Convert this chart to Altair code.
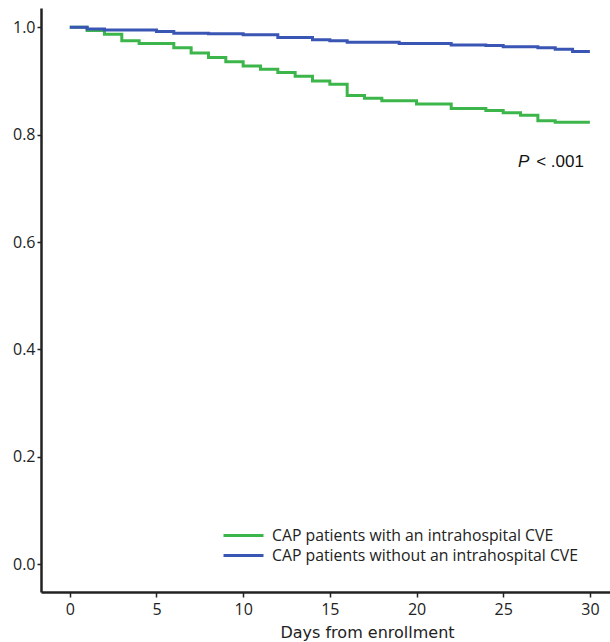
import altair as alt
import pandas as pd

# Kaplan-Meier style step data
green_days = [0, 1, 2, 3, 4, 6, 7, 8, 9, 10, 11, 12, 13, 14, 15, 16, 17, 18, 20, 22, 24, 25, 26, 27, 28, 30]
green_surv = [1.0, 0.994, 0.987, 0.975, 0.970, 0.962, 0.952, 0.944, 0.936, 0.928, 0.922, 0.916, 0.909,
              0.900, 0.894, 0.873, 0.868, 0.863, 0.857, 0.849, 0.845, 0.841, 0.836, 0.826, 0.823, 0.823]
blue_days = [0, 1, 2, 5, 6, 8, 10, 12, 14, 15, 16, 19, 22, 24, 25, 27, 28, 29, 30]
blue_surv = [1.0, 0.997, 0.995, 0.992, 0.989, 0.988, 0.986, 0.981, 0.977, 0.975, 0.972, 0.970, 0.967,
             0.966, 0.964, 0.962, 0.959, 0.955, 0.955]

series_names = ["CAP patients with an intrahospital CVE", "CAP patients without an intrahospital CVE"]
series_colors = ["#3cb64a", "#3a56b4"]

x_ticks = [0, 5, 10, 15, 20, 25, 30]
y_ticks = [0.0, 0.2, 0.4, 0.6, 0.8, 1.0]

df = pd.concat([
    pd.DataFrame({"day": green_days, "surv": green_surv, "group": series_names[0]}),
    pd.DataFrame({"day": blue_days, "surv": blue_surv, "group": series_names[1]}),
])

x_scale = alt.Scale(domain=[-1.66, 31.16], nice=False, zero=False)
y_scale = alt.Scale(domain=[-0.052, 1.036], nice=False, zero=False)

lines = alt.Chart(df).mark_line(interpolate="step-after", strokeWidth=3).encode(
    x=alt.X("day:Q", scale=x_scale,
            axis=alt.Axis(values=x_ticks, title="Days from enrollment", grid=False,
                          labelFontSize=16, labelFont="Open Sans", labelColor="#222",
                          titleFontSize=16, titleFont="DejaVu Sans", titleFontWeight="normal",
                          titleColor="#222", titleX=326, titleY=45, titleAlign="center",
                          titleBaseline="alphabetic", labelPadding=4,
                          tickSize=5, tickColor="#222", tickWidth=1.5,
                          domainColor="#222", domainWidth=2.5)),
    y=alt.Y("surv:Q", scale=y_scale,
            axis=alt.Axis(values=y_ticks, format=".1f", title=None, grid=False,
                          labelFontSize=16, labelFont="Open Sans", labelColor="#222",
                          labelPadding=2,
                          tickSize=4, tickColor="#222", tickWidth=1.5,
                          domainColor="#222", domainWidth=2.5)),
    color=alt.Color("group:N", scale=alt.Scale(domain=series_names, range=series_colors),
                    legend=alt.Legend(title=None, orient="none", legendX=191, legendY=516,
                                      symbolType="M-2,0H2", symbolSize=400, symbolStrokeWidth=3,
                                      labelFont="Open Sans", labelFontSize=15.8, labelColor="#222",
                                      labelOffset=17, rowPadding=-2, labelLimit=400)),
)

p_df = pd.DataFrame({"day": [25.85], "surv": [0.74], "t": ["P"]})
rest_df = pd.DataFrame({"day": [26.9], "surv": [0.74], "t": ["< .001"]})

p_text = alt.Chart(p_df).mark_text(font="Liberation Sans", fontSize=17, fontStyle="italic",
                                   align="left", baseline="alphabetic", color="#111").encode(
    x=alt.X("day:Q", scale=x_scale), y=alt.Y("surv:Q", scale=y_scale), text="t:N")
rest_text = alt.Chart(rest_df).mark_text(font="Liberation Sans", fontSize=17,
                                         align="left", baseline="alphabetic", color="#111").encode(
    x=alt.X("day:Q", scale=x_scale), y=alt.Y("surv:Q", scale=y_scale), text="t:N")

chart = alt.layer(lines, p_text, rest_text).properties(
    width=569, height=584,
    padding={"left": 41, "top": 8, "right": 0, "bottom": 50},
    autosize=alt.AutoSizeParams(type="none"),
    background="white",
).configure_view(stroke=None)

chart.save("out.html", embed_options={"renderer": "svg", "actions": False})
